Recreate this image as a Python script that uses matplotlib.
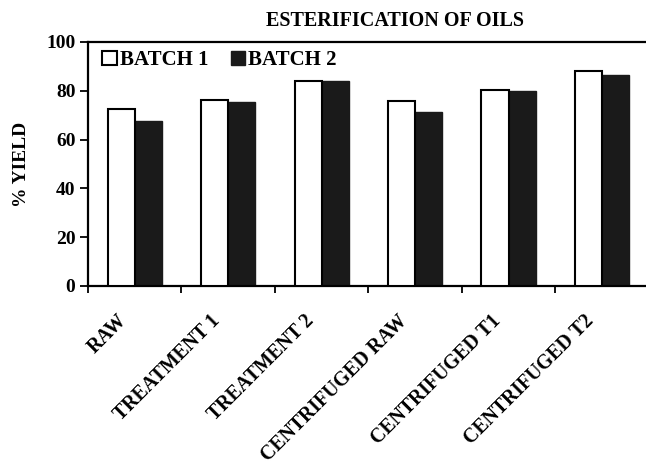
import matplotlib
matplotlib.use("Agg")
import matplotlib.pyplot as plt
import matplotlib.transforms as mtransforms
import numpy as np

# data
categories = ["RAW", "TREATMENT 1", "TREATMENT 2", "CENTRIFUGED RAW",
              "CENTRIFUGED T1", "CENTRIFUGED T2"]
batch1 = [72.4, 76.2, 84.0, 75.7, 80.3, 88.2]
batch2 = [67.7, 75.4, 83.9, 71.4, 80.0, 86.6]
yticks = [0, 20, 40, 60, 80, 100]

plt.rcParams["font.family"] = ["Liberation Serif", "DejaVu Serif"]
plt.rcParams["font.weight"] = "bold"

fig = plt.figure(figsize=(6.46, 4.67), dpi=100)
ax = fig.add_axes([0.1362, 0.3876, 0.868, 0.5225])

x = np.arange(len(categories)) + 0.5
w = 0.29
ax.bar(x - w / 2, batch1, w, color="white", edgecolor="black", linewidth=1.5,
       label="BATCH 1", zorder=3)
ax.bar(x + w / 2, batch2, w, color="#1a1a1a", edgecolor="#1a1a1a", linewidth=1.0,
       label="BATCH 2", zorder=2)

ax.set_xlim(0, len(categories))
ax.set_ylim(0, 100)
ax.set_yticks(yticks)
ax.tick_params(axis="y", direction="out", length=6, width=1.3, labelsize=14, pad=3)

# ticks at the group boundaries, labels at the group centres
ax.set_xticks(np.arange(len(categories) + 1))
ax.set_xticklabels([])
ax.tick_params(axis="x", which="major", direction="out", length=5, width=1.3)
ax.set_xticks(x, minor=True)
ax.set_xticklabels(categories, minor=True, rotation=45, ha="right",
                   rotation_mode="anchor", fontsize=14.3, fontweight="bold")
ax.tick_params(axis="x", which="minor", length=0, pad=18)
shift = mtransforms.ScaledTranslation(-18 / 100, 0, fig.dpi_scale_trans)
for lab in ax.get_xticklabels(minor=True):
    lab.set_transform(lab.get_transform() + shift)

for side in ["left", "bottom", "top"]:
    ax.spines[side].set_linewidth(1.6)
ax.spines["right"].set_visible(False)

ax.set_ylabel("% YIELD", fontsize=14, fontweight="bold", labelpad=12)
fig.text(0.611, 0.955, "ESTERIFICATION OF OILS", ha="center", va="center",
         fontsize=14.5, fontweight="bold")

ax.legend(loc="upper left", frameon=False, ncol=2, fontsize=15,
          handlelength=0.7, handleheight=0.7, handletextpad=0.15,
          columnspacing=1.05, borderaxespad=0.0, bbox_to_anchor=(0.011, 1.0))

fig.savefig("out.png", dpi=100)
